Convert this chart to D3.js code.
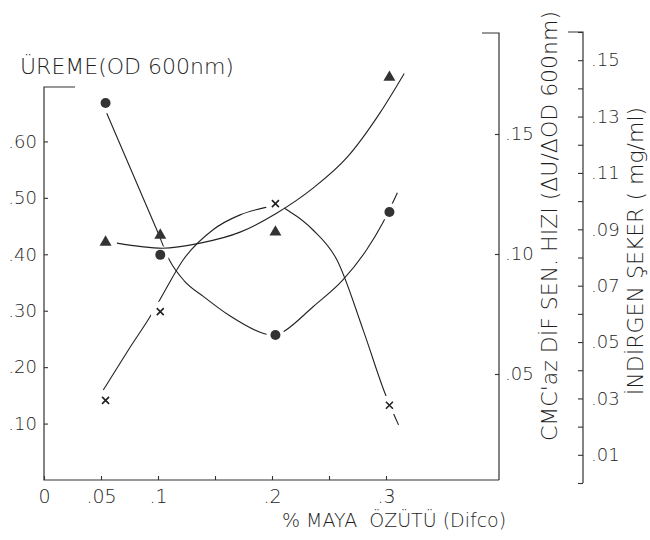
<!DOCTYPE html>
<html>
<head>
<meta charset="utf-8">
<script src="https://cdn.jsdelivr.net/npm/d3@7"></script>
<style>
  body { margin: 0; background: #fff; }
  svg text { font-family: 'DejaVu Sans', sans-serif; font-weight: 300; fill: #1e1e1e; }
</style>
</head>
<body>
<script>
// % maya ozutu
var maya = [0.054, 0.102, 0.203, 0.303]
var ureme = [0.668, 0.399, 0.257, 0.475]      // dots, left axis
var cmcaz = [0.039, 0.076, 0.121, 0.037]      // crosses, first right axis
var seker = [0.0854, 0.0879, 0.0890, 0.1439]  // triangles, second right axis

// hand drawn curves
var uremeCurveX = [0.055, 0.099, 0.110, 0.123, 0.140, 0.163, 0.192, 0.203, 0.211, 0.236, 0.262, 0.283, 0.297, 0.310]
var uremeCurveY = [0.650, 0.443, 0.390, 0.353, 0.325, 0.291, 0.260, 0.255, 0.264, 0.307, 0.354, 0.408, 0.455, 0.509]
var cmcazCurveX = [0.052, 0.074, 0.095, 0.104, 0.122, 0.148, 0.172, 0.196, 0.204, 0.216, 0.236, 0.257, 0.280, 0.299, 0.311]
var cmcazCurveY = [0.0433, 0.0600, 0.0754, 0.0829, 0.0975, 0.1100, 0.1163, 0.1196, 0.1204, 0.1175, 0.1100, 0.0975, 0.0683, 0.0421, 0.0288]
var sekerCurveX = [0.064, 0.104, 0.137, 0.172, 0.204, 0.236, 0.266, 0.295, 0.316]
var sekerCurveY = [0.0851, 0.0833, 0.0851, 0.0890, 0.0957, 0.1046, 0.1156, 0.1315, 0.1453]

var xTicks = [0, 0.05, 0.1, 0.15, 0.2, 0.25, 0.3]
var xTickLabels = ['0', '.05', '.1', '', '.2', '', '.3']
var leftTicks = [0.1, 0.2, 0.3, 0.4, 0.5, 0.6]
var leftTickLabels = ['.10', '.20', '.30', '.40', '.50', '.60']
var r1Ticks = [0.05, 0.10, 0.15]
var r1TickLabels = ['.05', '.10', '.15']
var r2Ticks = [0, 0.01, 0.02, 0.03, 0.04, 0.05, 0.06, 0.07, 0.08, 0.09, 0.10, 0.11, 0.12, 0.13, 0.14, 0.15, 0.16]
var r2TickLabels = ['', '.01', '', '.03', '', '.05', '', '.07', '', '.09', '', '.11', '', '.13', '', '.15', '']

var ink = '#222'

var svg = d3.select('body').append('svg')
  .attr('width', 650)
  .attr('height', 540)

var x = d3.scaleLinear().domain([0, 0.4]).range([44, 500])
var yL = d3.scaleLinear().domain([0, 0.7]).range([480, 85])
var yR1 = d3.scaleLinear().domain([0, 0.19]).range([494, 38])
var yR2 = d3.scaleLinear().domain([0, 0.16]).range([483, 32])

function labeller (ticks, labels) {
  return function (d) { return labels[ticks.indexOf(d)] }
}

// frame lines
var frame = svg.append('g')
  .attr('stroke', '#333')
  .attr('stroke-width', 1.2)
  .attr('fill', 'none')
frame.append('path').attr('d', 'M75,87H44V480H499')
frame.append('path').attr('d', 'M482,33H499V480')
frame.append('path').attr('d', 'M568,32H583V483')

// axes
var gx = svg.append('g')
  .attr('transform', 'translate(0,480)')
  .call(d3.axisBottom(x).tickValues(xTicks).tickFormat(labeller(xTicks, xTickLabels))
    .tickSizeInner(-4).tickSizeOuter(0).tickPadding(10))
gx.selectAll('text').style('font-size', '19px')

var gl = svg.append('g')
  .attr('transform', 'translate(44,0)')
  .call(d3.axisLeft(yL).tickValues(leftTicks).tickFormat(labeller(leftTicks, leftTickLabels))
    .tickSizeInner(-4).tickSizeOuter(0).tickPadding(7))
gl.selectAll('text').style('font-size', '18px')

var gr1 = svg.append('g')
  .attr('transform', 'translate(499,0)')
  .call(d3.axisRight(yR1).tickValues(r1Ticks).tickFormat(labeller(r1Ticks, r1TickLabels))
    .tickSizeInner(-4).tickSizeOuter(0).tickPadding(6))
gr1.selectAll('text').style('font-size', '18px')

var gr2 = svg.append('g')
  .attr('transform', 'translate(583,0)')
  .call(d3.axisRight(yR2).tickValues(r2Ticks).tickFormat(labeller(r2Ticks, r2TickLabels))
    .tickSizeInner(-5).tickSizeOuter(0).tickPadding(8))
gr2.selectAll('text').style('font-size', '18px')

svg.selectAll('.domain').remove()
svg.selectAll('.tick line').attr('stroke', '#333').attr('stroke-width', 1.1)

// titles
svg.append('text')
  .attr('x', 20)
  .attr('y', 74)
  .style('font-size', '22px')
  .text('ÜREME(OD 600nm)')

svg.append('text')
  .attr('x', 282)
  .attr('y', 527)
  .style('font-size', '19px')
  .style('white-space', 'pre')
  .text('% MAYA  ÖZÜTÜ (Difco)')

svg.append('text')
  .attr('transform', 'translate(557,226) rotate(-90)')
  .attr('text-anchor', 'middle')
  .style('font-size', '22px')
  .text("CMC'az DİF SEN. HIZI (ΔU/ΔOD 600nm)")

svg.append('text')
  .attr('transform', 'translate(643,251) rotate(-90)')
  .attr('text-anchor', 'middle')
  .style('font-size', '22px')
  .text('İNDİRGEN ŞEKER ( mg/ml)')

// curves, broken around their own markers
var defs = svg.append('defs')

function drawSeries (name, curveX, curveY, values, yScale, gap) {
  var mask = defs.append('mask')
    .attr('id', 'gap-' + name)
    .attr('maskUnits', 'userSpaceOnUse')
    .attr('x', 0).attr('y', 0).attr('width', 650).attr('height', 540)
  mask.append('rect')
    .attr('width', 650).attr('height', 540)
    .style('fill', '#fff')
  mask.selectAll('circle')
    .data(values)
    .enter().append('circle')
    .attr('cx', function (d, i) { return x(maya[i]) })
    .attr('cy', function (d) { return yScale(d) })
    .attr('r', gap)
    .style('fill', '#000')

  var line = d3.line()
    .x(function (d) { return x(d[0]) })
    .y(function (d) { return yScale(d[1]) })
    .curve(d3.curveMonotoneX)

  svg.append('path')
    .datum(d3.zip(curveX, curveY))
    .attr('d', line)
    .attr('mask', 'url(#gap-' + name + ')')
    .attr('fill', 'none')
    .attr('stroke', ink)
    .attr('stroke-width', 1.1)
}

drawSeries('ureme', uremeCurveX, uremeCurveY, ureme, yL, 9)
drawSeries('cmcaz', cmcazCurveX, cmcazCurveY, cmcaz, yR1, 10)
drawSeries('seker', sekerCurveX, sekerCurveY, seker, yR2, 8)

// markers
svg.append('g').selectAll('circle')
  .data(ureme)
  .enter().append('circle')
  .attr('cx', function (d, i) { return x(maya[i]) })
  .attr('cy', function (d) { return yL(d) })
  .attr('r', 5)
  .style('fill', '#333')

svg.append('g').selectAll('path')
  .data(seker)
  .enter().append('path')
  .attr('d', d3.symbol(d3.symbolTriangle).size(62))
  .attr('transform', function (d, i) { return 'translate(' + x(maya[i]) + ',' + yR2(d) + ')' })
  .style('fill', '#333')

svg.append('g').selectAll('path')
  .data(cmcaz)
  .enter().append('path')
  .attr('d', 'M-3.5,-3.5L3.5,3.5M-3.5,3.5L3.5,-3.5')
  .attr('transform', function (d, i) { return 'translate(' + x(maya[i]) + ',' + yR1(d) + ')' })
  .attr('stroke', ink)
  .attr('stroke-width', 1.6)
</script>
</body>
</html>
